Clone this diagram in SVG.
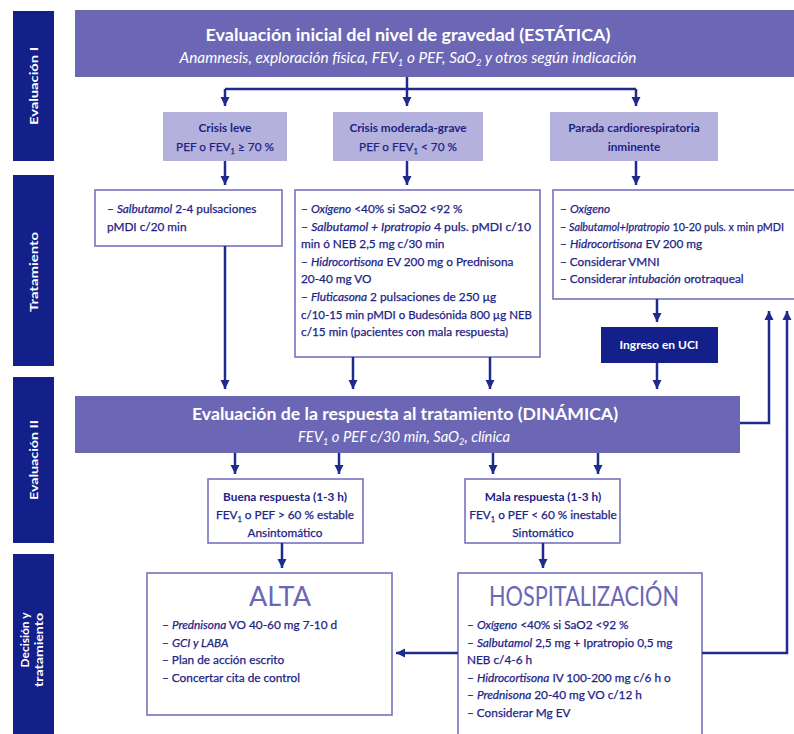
<svg xmlns="http://www.w3.org/2000/svg" width="794" height="734" viewBox="0 0 794 734">
<style>
text{font-family:Lato,"Liberation Sans",sans-serif;}
.side{fill:#13208a;}
.sidet{fill:#fff;font-size:11px;font-weight:bold;text-anchor:middle;}
.hdr{fill:#6b67b5;}
.hdrt{fill:#fff;font-size:17.5px;font-weight:bold;text-anchor:middle;}
.hdrs{fill:#fff;font-size:14.5px;font-style:italic;text-anchor:middle;}
.lt{fill:#b5b1dd;}
.box{fill:#fff;stroke:#7673bf;stroke-width:1.6;}
.bt{fill:#1c2385;stroke:#1c2385;stroke-width:0.25;font-size:11.8px;}
.btb{fill:#1c2385;font-size:11.8px;font-weight:bold;}
.c{text-anchor:middle;}
.i{font-style:italic;}
.big{fill:#6b67b5;font-size:27px;text-anchor:middle;}
.uci{fill:#13208a;}
.ucit{fill:#fff;font-size:12px;font-weight:bold;text-anchor:middle;}
.con path{fill:none;stroke:#1e2a8c;stroke-width:2.5;}
.con path.a{marker-end:url(#ah);}
</style>
<defs>
<marker id="ah" markerUnits="userSpaceOnUse" markerWidth="10" markerHeight="10" refX="9" refY="5" orient="auto">
<path d="M0,0.5 L9,5 L0,9.5 z" fill="#1e2a8c"/>
</marker>
</defs>
<rect width="794" height="734" fill="#fff"/>

<g id="sidebars">
<rect class="side" x="13" y="11" width="41" height="150"/>
<text class="sidet" transform="translate(37.5,86) rotate(-90)" textLength="78" lengthAdjust="spacingAndGlyphs">Evaluación I</text>
<rect class="side" x="13" y="175" width="41" height="191"/>
<text class="sidet" transform="translate(37.5,272) rotate(-90)" textLength="80" lengthAdjust="spacingAndGlyphs">Tratamiento</text>
<rect class="side" x="13" y="377" width="41" height="166"/>
<text class="sidet" transform="translate(37.5,460) rotate(-90)" textLength="80" lengthAdjust="spacingAndGlyphs">Evaluación II</text>
<rect class="side" x="13" y="554" width="41" height="190"/>
<text class="sidet" transform="translate(29,640) rotate(-90)" textLength="55" lengthAdjust="spacingAndGlyphs">Decisión y</text>
<text class="sidet" transform="translate(43,650) rotate(-90)" textLength="74" lengthAdjust="spacingAndGlyphs">tratamiento</text>
</g>

<g id="eval1">
<rect class="hdr" x="75" y="10" width="725" height="67"/>
<text class="hdrt" x="408" y="41" textLength="405" lengthAdjust="spacingAndGlyphs">Evaluación inicial del nivel de gravedad (ESTÁTICA)</text>
<text class="hdrs" x="408" y="63" textLength="457" lengthAdjust="spacingAndGlyphs">Anamnesis, exploración física, FEV<tspan font-size="9" dy="3">1</tspan><tspan dy="-3"> o PEF, SaO</tspan><tspan font-size="9" dy="3">2</tspan><tspan dy="-3"> y otros según indicación</tspan></text>
</g>

<g id="crisis-leve">
<rect class="lt" x="163" y="112" width="124" height="49"/>
<text class="btb c" x="225" y="132">Crisis leve</text>
<text class="bt c" x="225" y="151">PEF o FEV<tspan font-size="7.5" dy="2.5">1</tspan><tspan dy="-2.5"> ≥ 70 %</tspan></text>
</g>
<g id="crisis-moderada">
<rect class="lt" x="333" y="112" width="150" height="49"/>
<text class="btb c" x="408" y="132">Crisis moderada-grave</text>
<text class="bt c" x="408" y="151">PEF o FEV<tspan font-size="7.5" dy="2.5">1</tspan><tspan dy="-2.5"> &lt; 70 %</tspan></text>
</g>
<g id="parada">
<rect class="lt" x="550" y="112" width="168" height="49"/>
<text class="btb c" x="634" y="132">Parada cardiorespiratoria</text>
<text class="btb c" x="634" y="151">inminente</text>
</g>

<g id="trat-leve">
<rect class="box" x="95" y="190" width="187" height="56"/>
<text class="bt" x="107" y="213">– <tspan class="i">Salbutamol</tspan> 2-4 pulsaciones</text>
<text class="bt" x="107" y="231">pMDI c/20 min</text>
</g>

<g id="trat-moderada">
<rect class="box" x="295" y="190" width="245" height="167"/>
<text class="bt" x="301" y="213">– <tspan class="i">Oxígeno</tspan> &lt;40% si SaO2 &lt;92 %</text>
<text class="bt" x="301" y="231" textLength="230" lengthAdjust="spacingAndGlyphs">– <tspan class="i">Salbutamol + Ipratropio</tspan> 4 puls. pMDI c/10</text>
<text class="bt" x="301" y="248">min ó NEB 2,5 mg c/30 min</text>
<text class="bt" x="301" y="266">– <tspan class="i">Hidrocortisona</tspan> EV 200 mg o Prednisona</text>
<text class="bt" x="301" y="283">20-40 mg VO</text>
<text class="bt" x="301" y="301">– <tspan class="i">Fluticasona</tspan>  2 pulsaciones de 250 µg</text>
<text class="bt" x="301" y="319" textLength="231" lengthAdjust="spacingAndGlyphs">c/10-15 min pMDI o Budesónida 800 µg NEB</text>
<text class="bt" x="301" y="336">c/15 min (pacientes con mala respuesta)</text>
</g>

<g id="trat-parada">
<rect class="box" x="553" y="190" width="250" height="109"/>
<text class="bt" x="560" y="213">– <tspan class="i">Oxígeno</tspan></text>
<text class="bt" x="560" y="231" textLength="224" lengthAdjust="spacingAndGlyphs">– <tspan class="i">Salbutamol+Ipratropio</tspan> 10-20 puls. x min pMDI</text>
<text class="bt" x="560" y="248">– <tspan class="i">Hidrocortisona</tspan> EV 200 mg</text>
<text class="bt" x="560" y="266">– Considerar VMNI</text>
<text class="bt" x="560" y="283">– Considerar <tspan class="i">intubación</tspan> orotraqueal</text>
</g>

<g id="uci">
<rect class="uci" x="601" y="327" width="117" height="36"/>
<text class="ucit" x="659" y="349">Ingreso en UCI</text>
</g>

<g id="eval2">
<rect class="hdr" x="75" y="396" width="665" height="57"/>
<text class="hdrt" x="405" y="420" textLength="426" lengthAdjust="spacingAndGlyphs">Evaluación de la respuesta al tratamiento (DINÁMICA)</text>
<text class="hdrs" x="404" y="442" textLength="212" lengthAdjust="spacingAndGlyphs">FEV<tspan font-size="9" dy="3">1</tspan><tspan dy="-3"> o PEF c/30 min, SaO</tspan><tspan font-size="9" dy="3">2</tspan><tspan dy="-3">, clínica</tspan></text>
</g>

<g id="buena">
<rect class="box" x="208" y="479" width="155" height="64"/>
<text class="btb c" x="285" y="501">Buena respuesta (1-3 h)</text>
<text class="bt c" x="285" y="519">FEV<tspan font-size="7.5" dy="2.5">1</tspan><tspan dy="-2.5"> o PEF &gt; 60 % estable</tspan></text>
<text class="bt c" x="285" y="537">Ansintomático</text>
</g>

<g id="mala">
<rect class="box" x="465" y="479" width="155" height="64"/>
<text class="btb c" x="543" y="501">Mala respuesta (1-3 h)</text>
<text class="bt c" x="543" y="519">FEV<tspan font-size="7.5" dy="2.5">1</tspan><tspan dy="-2.5"> o PEF &lt; 60 % inestable</tspan></text>
<text class="bt c" x="543" y="537">Sintomático</text>
</g>

<g id="alta">
<rect class="box" x="147" y="573" width="245" height="142"/>
<text class="big" x="280" y="606">ALTA</text>
<text class="bt" x="162" y="629">– <tspan class="i">Prednisona</tspan> VO 40-60 mg 7-10 d</text>
<text class="bt" x="162" y="647">– <tspan class="i">GCI y LABA</tspan></text>
<text class="bt" x="162" y="664">– Plan de acción escrito</text>
<text class="bt" x="162" y="682">– Concertar cita de control</text>
</g>

<g id="hospitalizacion">
<rect class="box" x="458" y="573" width="244" height="170"/>
<text class="big" x="584" y="606" textLength="190" lengthAdjust="spacingAndGlyphs">HOSPITALIZACIÓN</text>
<text class="bt" x="467" y="629">– <tspan class="i">Oxígeno</tspan> &lt;40% si SaO2 &lt;92 %</text>
<text class="bt" x="467" y="647">– <tspan class="i">Salbutamol</tspan> 2,5 mg + Ipratropio 0,5 mg</text>
<text class="bt" x="467" y="664">NEB c/4-6 h</text>
<text class="bt" x="467" y="682">– <tspan class="i">Hidrocortisona</tspan> IV 100-200 mg c/6 h o</text>
<text class="bt" x="467" y="699">– <tspan class="i">Prednisona</tspan> 20-40 mg VO c/12 h</text>
<text class="bt" x="467" y="717">– Considerar Mg EV</text>
</g>

<g id="connectors" class="con">
<path d="M225,89 H636"/>
<path class="a" d="M225,89 V106"/>
<path class="a" d="M407,77 V106"/>
<path class="a" d="M636,89 V106"/>
<path class="a" d="M225,161 V185"/>
<path class="a" d="M407,161 V185"/>
<path class="a" d="M636,161 V185"/>
<path class="a" d="M225,246 V389"/>
<path class="a" d="M353,357 V389"/>
<path class="a" d="M490,357 V389"/>
<path class="a" d="M657,299 V322"/>
<path class="a" d="M657,363 V389"/>
<path class="a" d="M235,453 V474"/>
<path class="a" d="M339,453 V474"/>
<path class="a" d="M493,453 V474"/>
<path class="a" d="M598,453 V474"/>
<path class="a" d="M740,423 H769 V311"/>
<path class="a" d="M702,653 H787 V311"/>
<path class="a" d="M282,543 V568"/>
<path class="a" d="M543,543 V568"/>
<path class="a" d="M458,653 H396"/>
</g>
</svg>
